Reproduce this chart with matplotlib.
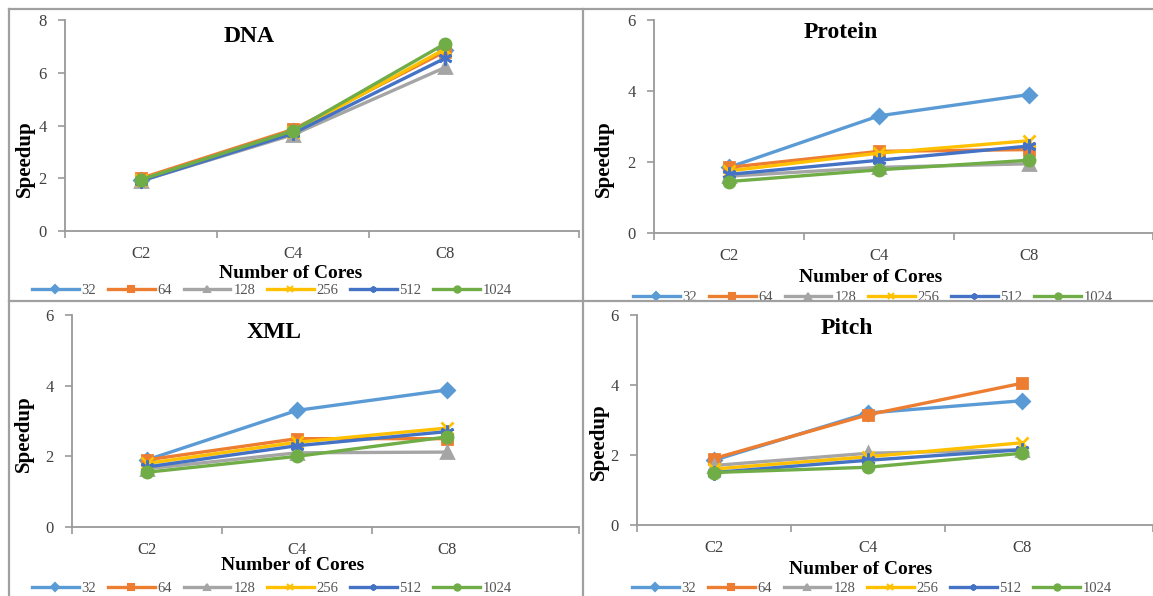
import matplotlib
matplotlib.use('Agg')
import matplotlib.pyplot as plt
from matplotlib.lines import Line2D
from matplotlib.patches import Rectangle

plt.rcParams['font.family'] = ['Liberation Serif', 'DejaVu Serif']

W, H = 1153, 596

# data
categories = ['C2', 'C4', 'C8']
block_sizes = ['32', '64', '128', '256', '512', '1024']

dna_speedup = [
    [1.95, 3.80, 6.85],
    [2.00, 3.85, 6.80],
    [1.90, 3.65, 6.20],
    [1.95, 3.75, 6.90],
    [1.90, 3.70, 6.55],
    [1.95, 3.80, 7.10],
]
protein_speedup = [
    [1.85, 3.30, 3.90],
    [1.85, 2.30, 2.35],
    [1.60, 1.85, 1.95],
    [1.75, 2.25, 2.60],
    [1.65, 2.05, 2.45],
    [1.45, 1.78, 2.05],
]
xml_speedup = [
    [1.90, 3.30, 3.88],
    [1.90, 2.50, 2.50],
    [1.65, 2.10, 2.12],
    [1.80, 2.40, 2.80],
    [1.70, 2.30, 2.70],
    [1.55, 2.00, 2.55],
]
pitch_speedup = [
    [1.85, 3.20, 3.55],
    [1.90, 3.15, 4.05],
    [1.70, 2.05, 2.15],
    [1.60, 1.95, 2.35],
    [1.50, 1.85, 2.15],
    [1.50, 1.65, 2.05],
]

colors = ['#5B9BD5', '#ED7D31', '#A5A5A5', '#FFC000', '#4472C4', '#70AD47']
markers = ['D', 's', '^', 'x', (6, 2, 0), 'o']
msizes = [7, 7, 8, 9, 10, 8]


def fx(x):
    return x / W


def fy(y):
    return 1 - y / H


fig = plt.figure(figsize=(W / 100, H / 100), dpi=100)

# name, data, ymax, left, right, top, bottom, px per category,
# title pos, speedup pos, xlabel pos, legend pos
panels = [
    ('DNA', dna_speedup, 8, 65, 579, 20, 231, 152, (249, 36), (25, 159), (291, 273), (272, 290)),
    ('Protein', protein_speedup, 6, 654, 1153, 20, 233, 150, (841, 32), (604, 159), (871, 277), (873, 297)),
    ('XML', xml_speedup, 6, 72, 579, 315, 527, 150, (274, 332), (24, 434), (293, 566), (272, 588)),
    ('Pitch', pitch_speedup, 6, 637, 1153, 315, 525, 154, (847, 329), (599, 442), (861, 569), (872, 588)),
]

x = list(range(len(categories)))

for (name, data, ymax, left, right, top, bottom, step,
     tpos, spos, xpos, lpos) in panels:
    ax = fig.add_axes([fx(left), fy(bottom), fx(right - left), (bottom - top) / H])
    for vals, c, m, ms in zip(data, colors, markers, msizes):
        ax.plot(x, vals, color=c, lw=2.4, marker=m, ms=ms, mew=2, clip_on=False)
    xmax = -0.5 + (right - left) / step
    ax.set_xlim(-0.5, xmax)
    ax.set_ylim(0, ymax)
    ax.set_yticks(range(0, ymax + 1, 2))
    ax.set_xticks(x)
    ax.set_xticklabels(categories)
    ax.set_xticks([-0.5, 0.5, 1.5, xmax], minor=True)
    ax.tick_params(axis='x', which='major', length=0, pad=11, labelsize=12, labelcolor='#404040')
    ax.tick_params(axis='x', which='minor', length=5, width=1.2, color='#999999')
    ax.tick_params(axis='y', length=5, width=1.2, color='#999999', pad=8,
                   labelsize=12, labelcolor='#404040')
    for s in ['top', 'right']:
        ax.spines[s].set_visible(False)
    for s in ['left', 'bottom']:
        ax.spines[s].set_color('#999999')
        ax.spines[s].set_linewidth(1.3)
    ax.patch.set_alpha(0)

    fig.text(fx(tpos[0]), fy(tpos[1]), name, ha='center', va='center',
             fontsize=17, fontweight='bold')
    fig.text(fx(spos[0]), fy(spos[1]), 'Speedup', ha='center', va='center',
             rotation=90, fontsize=15, fontweight='bold')
    fig.text(fx(xpos[0]), fy(xpos[1]), 'Number of Cores', ha='center', va='center',
             fontsize=14, fontweight='bold')

    handles = [Line2D([], [], color=c, lw=2.4, marker=m, ms=4.5, mew=1.5)
               for c, m in zip(colors, markers)]
    fig.legend(handles, block_sizes, loc='center', bbox_to_anchor=(fx(lpos[0]), fy(lpos[1])),
               ncol=6, frameon=False, fontsize=10.5, handlelength=3.2, handletextpad=0.2,
               columnspacing=0.8, borderpad=0, labelcolor='#555555')

# white strip that cuts off the top-right legend, then panel borders
fig.add_artist(Rectangle((fx(583), fy(306)), fx(W - 583), (306 - 301) / H,
                         transform=fig.transFigure, color='white', zorder=20))
border = dict(color='#A0A0A0', lw=1.6, zorder=21)
fig.add_artist(Line2D([fx(9), fx(W)], [fy(9), fy(9)], transform=fig.transFigure, **border))
fig.add_artist(Line2D([fx(9), fx(W)], [fy(301), fy(301)], transform=fig.transFigure, **border))
fig.add_artist(Line2D([fx(9), fx(9)], [fy(9), fy(H)], transform=fig.transFigure, **border))
fig.add_artist(Line2D([fx(583), fx(583)], [fy(9), fy(H)], transform=fig.transFigure, **border))

fig.savefig('out.png', dpi=100)
